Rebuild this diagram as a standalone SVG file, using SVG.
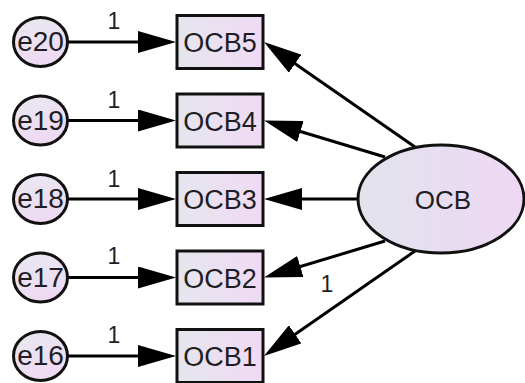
<svg xmlns="http://www.w3.org/2000/svg" width="525" height="383" viewBox="0 0 525 383">
  <defs>
    <linearGradient id="fillBox" x1="0" y1="0" x2="1" y2="0">
      <stop offset="0" stop-color="#e5e6ee"/>
      <stop offset="1" stop-color="#f0daf4"/>
    </linearGradient>
    <linearGradient id="fillErr" x1="0" y1="0" x2="0.4" y2="1">
      <stop offset="0" stop-color="#e8e9f0"/>
      <stop offset="1" stop-color="#eedaf3"/>
    </linearGradient>
    <linearGradient id="fillLatent" x1="0" y1="0" x2="1" y2="0">
      <stop offset="0" stop-color="#e1e3ec"/>
      <stop offset="1" stop-color="#eed8f4"/>
    </linearGradient>
    <marker id="arrow" markerUnits="userSpaceOnUse" viewBox="0 0 38 22" markerWidth="38" markerHeight="22" refX="32" refY="11" orient="auto">
      <path d="M0,0 L38,11 L0,22 Z" fill="#000"/>
    </marker>
  </defs>
  <style>
    .box { fill: url(#fillBox); stroke: #111; stroke-width: 3; }
    .err { fill: url(#fillErr); stroke: #111; stroke-width: 3; }
    .latent { fill: url(#fillLatent); stroke: #111; stroke-width: 3; }
    .lbl { font-family: "Liberation Sans", Arial, sans-serif; fill: #1e1e24; text-anchor: middle; }
    .path { stroke: #000; stroke-width: 3; fill: none; marker-end: url(#arrow); }
    .w { font-family: "Liberation Sans", Arial, sans-serif; font-size: 23px; fill: #1e1e24; text-anchor: middle; }
  </style>
  <rect width="525" height="383" fill="#fff"/>

  <!-- paths: error terms to indicators, latent factor to indicators -->
  <g id="connectors">
    <line class="path" x1="67.5" y1="42" x2="170" y2="42"/>
    <line class="path" x1="67.5" y1="120.5" x2="170" y2="120.5"/>
    <line class="path" x1="67.5" y1="199" x2="170" y2="199"/>
    <line class="path" x1="67.5" y1="277.5" x2="170" y2="277.5"/>
    <line class="path" x1="67.5" y1="356" x2="170" y2="356"/>
    <line class="path" x1="415" y1="147" x2="268.9" y2="45.4"/>
    <line class="path" x1="385" y1="157" x2="269.8" y2="122.2"/>
    <line class="path" x1="357" y1="199" x2="270" y2="199"/>
    <line class="path" x1="385" y1="241" x2="269.7" y2="275.8"/>
    <line class="path" x1="415" y1="251" x2="268.9" y2="352.6"/>
    <text class="w" x="114" y="29">1</text>
    <text class="w" x="114" y="108">1</text>
    <text class="w" x="114" y="187">1</text>
    <text class="w" x="114" y="264">1</text>
    <text class="w" x="114" y="343">1</text>
    <text class="w" x="327" y="292">1</text>
  </g>

  <!-- error terms -->
  <g id="e20"><ellipse class="err" cx="40.5" cy="42" rx="27" ry="24.5"/><text class="lbl" x="40.5" y="51" font-size="28">e20</text></g>
  <g id="e19"><ellipse class="err" cx="40.5" cy="120.5" rx="27" ry="24.5"/><text class="lbl" x="40.5" y="129.5" font-size="28">e19</text></g>
  <g id="e18"><ellipse class="err" cx="40.5" cy="199" rx="27" ry="24.5"/><text class="lbl" x="40.5" y="208" font-size="28">e18</text></g>
  <g id="e17"><ellipse class="err" cx="40.5" cy="277.5" rx="27" ry="24.5"/><text class="lbl" x="40.5" y="286.5" font-size="28">e17</text></g>
  <g id="e16"><ellipse class="err" cx="40.5" cy="356" rx="27" ry="24.5"/><text class="lbl" x="40.5" y="365" font-size="28">e16</text></g>

  <!-- observed indicators -->
  <g id="OCB5"><rect class="box" x="177" y="15.5" width="86" height="53"/><text class="lbl" x="220" y="52" font-size="27">OCB5</text></g>
  <g id="OCB4"><rect class="box" x="177" y="94" width="86" height="53"/><text class="lbl" x="220" y="130.5" font-size="27">OCB4</text></g>
  <g id="OCB3"><rect class="box" x="177" y="172.5" width="86" height="53"/><text class="lbl" x="220" y="209" font-size="27">OCB3</text></g>
  <g id="OCB2"><rect class="box" x="177" y="251" width="86" height="53"/><text class="lbl" x="220" y="287.5" font-size="27">OCB2</text></g>
  <g id="OCB1"><rect class="box" x="177" y="329.5" width="86" height="53"/><text class="lbl" x="220" y="366" font-size="27">OCB1</text></g>

  <!-- latent factor -->
  <g id="OCB"><ellipse class="latent" cx="441" cy="199" rx="83" ry="54"/><text class="lbl" x="443" y="209" font-size="26">OCB</text></g>
</svg>
